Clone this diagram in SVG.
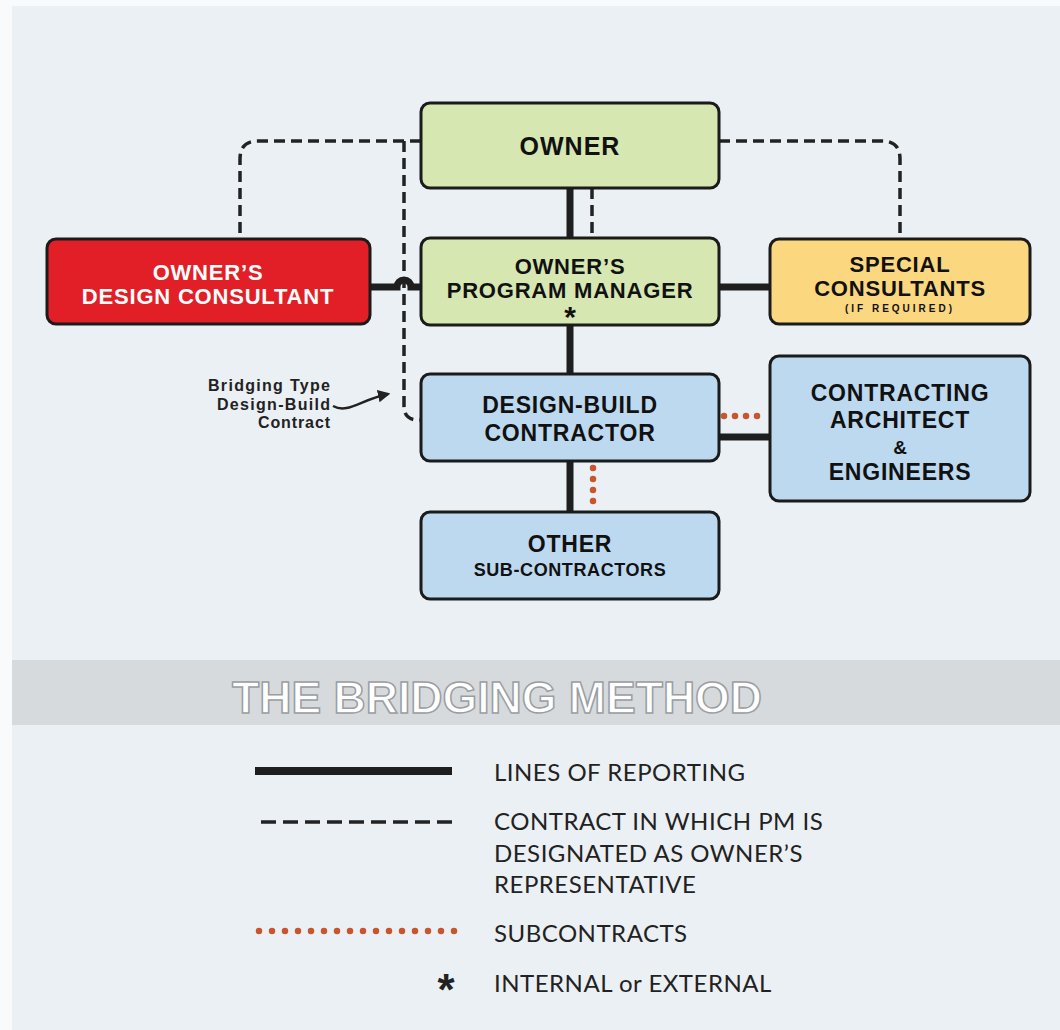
<svg xmlns="http://www.w3.org/2000/svg" width="1060" height="1030" viewBox="0 0 1060 1030">
<defs>
<style>
.node rect{stroke:#1b1b1b;stroke-width:3}
.t{font-family:"Liberation Sans",Arial,sans-serif;font-weight:bold;text-anchor:middle;fill:#111}
.w{fill:#fff}
.solid{stroke:#1e1e1e;stroke-width:7;fill:none}
.dash{stroke:#222;stroke-width:3.5;fill:none;stroke-dasharray:11 6}
.dot{stroke:#c9552f;stroke-width:6.5;fill:none;stroke-dasharray:0 11;stroke-linecap:round}
.lg{font-family:Lato,"Open Sans",sans-serif;font-size:24px;letter-spacing:0.5px;fill:#222}
</style>
<marker id="ah" viewBox="0 0 10 10" refX="8" refY="5" markerWidth="5" markerHeight="5" orient="auto"><path d="M0,0 L10,5 L0,10 Z" fill="#222"/></marker>
</defs>
<rect width="1060" height="1030" fill="#f8fafb"/>
<rect x="12" y="6" width="1048" height="1024" fill="#ebf0f4"/>
<rect x="12" y="660" width="1048" height="65" fill="#d6dadd"/>
<text x="497" y="713" font-family="'Liberation Sans',Arial,sans-serif" font-size="44" font-weight="bold" fill="#fff" stroke="#9a9ea2" stroke-width="1.5" text-anchor="middle" textLength="530" lengthAdjust="spacingAndGlyphs">THE BRIDGING METHOD</text>

<g id="connectors">
<path class="solid" d="M570,188 V512"/>
<path class="dash" d="M592,188 V238"/>
<path class="dash" d="M421,141 H258 Q240,141 240,159 V239"/>
<path class="dash" d="M404,141 V406 Q404,420 418,420 H421"/>
<path class="dash" d="M719,141 H882 Q900,141 900,159 V239"/>
<path class="solid" d="M370,287 H397 A7,7 0 0 1 411,287 H421"/>
<path class="solid" d="M719,287 H770"/>
<path class="solid" d="M719,437 H770"/>
<path class="dot" d="M724,416 H768"/>
<path class="dot" d="M593,468 V506"/>
<path d="M333,406 C348,414 360,400 388,394" fill="none" stroke="#222" stroke-width="2.5" marker-end="url(#ah)"/>
</g>

<g id="owner" class="node"><rect x="421" y="103" width="298" height="85" rx="9" fill="#d6e7b1"/><text class="t" x="570" y="155" font-size="25" letter-spacing="1">OWNER</text></g>
<g id="pm" class="node"><rect x="421" y="238" width="298" height="87" rx="9" fill="#d6e7b1"/><text class="t" x="570" y="274" font-size="22" letter-spacing="0.8">OWNER’S</text><text class="t" x="570" y="298" font-size="22" letter-spacing="0.8">PROGRAM MANAGER</text><text class="t" x="570" y="327" font-size="30">*</text></g>
<g id="odc" class="node"><rect x="47" y="239" width="323" height="85" rx="9" fill="#e21f26"/><text class="t w" x="208" y="280" font-size="22" letter-spacing="0.8">OWNER’S</text><text class="t w" x="208" y="304" font-size="22" letter-spacing="0.8">DESIGN CONSULTANT</text></g>
<g id="sc" class="node"><rect x="770" y="239" width="260" height="85" rx="9" fill="#fbd77f"/><text class="t" x="900" y="272" font-size="22" letter-spacing="0.8">SPECIAL</text><text class="t" x="900" y="296" font-size="22" letter-spacing="0.8">CONSULTANTS</text><text class="t" x="900" y="312" font-size="10" letter-spacing="3">(IF REQUIRED)</text></g>
<g id="dbc" class="node"><rect x="421" y="374" width="298" height="87" rx="9" fill="#bdd9f0"/><text class="t" x="570" y="413" font-size="23" letter-spacing="0.8">DESIGN-BUILD</text><text class="t" x="570" y="441" font-size="23" letter-spacing="0.8">CONTRACTOR</text></g>
<g id="cae" class="node"><rect x="770" y="356" width="260" height="145" rx="9" fill="#bdd9f0"/><text class="t" x="900" y="401" font-size="23" letter-spacing="0.8">CONTRACTING</text><text class="t" x="900" y="428" font-size="23" letter-spacing="0.8">ARCHITECT</text><text class="t" x="900" y="454" font-size="19">&amp;</text><text class="t" x="900" y="480" font-size="23" letter-spacing="0.8">ENGINEERS</text></g>
<g id="osc" class="node"><rect x="421" y="512" width="298" height="87" rx="9" fill="#bdd9f0"/><text class="t" x="570" y="552" font-size="23" letter-spacing="0.8">OTHER</text><text class="t" x="570" y="576" font-size="18" letter-spacing="0.6">SUB-CONTRACTORS</text></g>

<g id="annotation" font-family="'Liberation Sans',Arial,sans-serif" font-weight="bold" font-size="16" fill="#222" text-anchor="end">
<text x="330" y="391" textLength="122">Bridging Type</text><text x="330" y="409.5" textLength="113">Design-Build</text><text x="330" y="428" textLength="72">Contract</text>
</g>

<g id="legend">
<path d="M255,771 H452" stroke="#1e1e1e" stroke-width="8"/>
<path d="M261,822 H456" stroke="#222" stroke-width="3.5" stroke-dasharray="15 7"/>
<path d="M259,931 H455" class="dot" style="stroke-dasharray:0 13"/>
<text x="446" y="1005" font-family="'Liberation Sans',Arial,sans-serif" font-weight="bold" font-size="44" text-anchor="middle" fill="#222">*</text>
<text class="lg" x="494" y="781">LINES OF REPORTING</text>
<text class="lg" x="494" y="830">CONTRACT IN WHICH PM IS</text>
<text class="lg" x="494" y="862">DESIGNATED AS OWNER’S</text>
<text class="lg" x="494" y="893">REPRESENTATIVE</text>
<text class="lg" x="494" y="942">SUBCONTRACTS</text>
<text class="lg" x="494" y="992">INTERNAL or EXTERNAL</text>
</g>
</svg>
